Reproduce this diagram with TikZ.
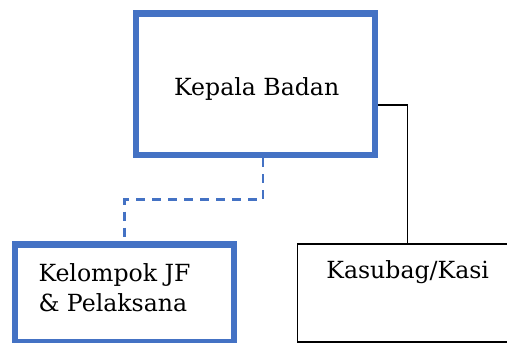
\documentclass[tikz,border=0pt]{standalone}
\usepackage{fontspec}
\setmainfont{DejaVu Serif}
\definecolor{officeblue}{HTML}{4472C4}
\tikzset{
  x=1pt, y=-1pt,
  lead/.style={draw=officeblue, line width=6.5pt, rectangle, inner sep=0pt},
  plainbox/.style={draw=black, line width=1.3pt, rectangle, inner sep=0pt},
  label/.style={inner sep=0pt, font=\fontsize{23.6}{30}\selectfont, align=left},
  solidlink/.style={draw=black, line width=1.3pt},
  dashlink/.style={draw=officeblue, line width=2.6pt, dash pattern=on 9pt off 7pt},
}
\begin{document}
\begin{tikzpicture}
  \useasboundingbox (0,0) rectangle (507,343);
  % boxes
  \node[lead, minimum width=239.4pt, minimum height=141.5pt] (head) at (255.5,84) {};
  \node[label, anchor=base] (headtext) at (256.7,95) {Kepala Badan};
  \node[lead, minimum width=219pt, minimum height=98pt] (group) at (124.5,293.5) {};
  \node[label, anchor=base west] (grouptext) at (38.3,281.7) {Kelompok JF};
  \node[label, anchor=base west] (grouptext2) at (38.3,311.7) {\& Pelaksana};
  \node[plainbox, minimum width=220pt, minimum height=98pt] (kasubag) at (407.5,293) {};
  \node[label, anchor=base] (kasubagtext) at (407.7,278.3) {Kasubag/Kasi};
  % connectors
  \draw[dashlink] ([xshift=7.5pt]head.south) -- ++(0,41.5) -| (group.north);
  \draw[solidlink] ([yshift=-21pt]head.east) -| (kasubag.north);
\end{tikzpicture}
\end{document}
